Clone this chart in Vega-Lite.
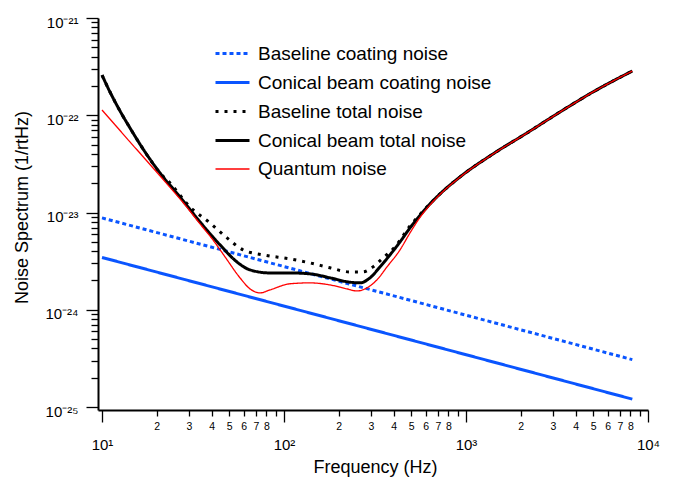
{
 "$schema": "https://vega.github.io/schema/vega-lite/v6.json",
 "width": 550, "height": 392,
 "autosize": "none",
 "padding": {"left": 98, "top": 18, "right": 30, "bottom": 71},
 "background": "white",
 "config": {"view": {"stroke": null}, "font": "Liberation Sans"},
 "data": {"values": [
  {"s":"Baseline coating noise","f":10,"n":8.8e-24},
  {"s":"Baseline coating noise","f":8200,"n":3.07e-25},
  {"s":"Conical beam coating noise","f":10,"n":3.45e-24},
  {"s":"Conical beam coating noise","f":8200,"n":1.205e-25},
  {"s":"Baseline total noise","f":10,"n":2.59e-22},
  {"s":"Baseline total noise","f":11.065,"n":1.735e-22},
  {"s":"Baseline total noise","f":12.56,"n":1.107e-22},
  {"s":"Baseline total noise","f":14.25,"n":7.4e-23},
  {"s":"Baseline total noise","f":17.23,"n":4.196e-23},
  {"s":"Baseline total noise","f":20.83,"n":2.55e-23},
  {"s":"Baseline total noise","f":23.64,"n":2.01e-23},
  {"s":"Baseline total noise","f":30.44,"n":1.143e-23},
  {"s":"Baseline total noise","f":39.21,"n":7.82e-24},
  {"s":"Baseline total noise","f":48.63,"n":5.48e-24},
  {"s":"Baseline total noise","f":59.52,"n":4.13e-24},
  {"s":"Baseline total noise","f":76.67,"n":3.67e-24},
  {"s":"Baseline total noise","f":107.9,"n":3.33e-24},
  {"s":"Baseline total noise","f":139,"n":3.03e-24},
  {"s":"Baseline total noise","f":178.9,"n":2.7e-24},
  {"s":"Baseline total noise","f":230.5,"n":2.45e-24},
  {"s":"Baseline total noise","f":271.7,"n":2.45e-24},
  {"s":"Baseline total noise","f":308.3,"n":2.76e-24},
  {"s":"Baseline total noise","f":349.9,"n":3.41e-24},
  {"s":"Baseline total noise","f":407.3,"n":4.43e-24},
  {"s":"Baseline total noise","f":492.4,"n":7.28e-24},
  {"s":"Baseline total noise","f":558.8,"n":9.56e-24},
  {"s":"Baseline total noise","f":634.2,"n":1.23e-23},
  {"s":"Baseline total noise","f":719.7,"n":1.553e-23},
  {"s":"Baseline total noise","f":926.8,"n":2.322e-23},
  {"s":"Baseline total noise","f":1407,"n":4.0e-23},
  {"s":"Baseline total noise","f":2164,"n":6.58e-23},
  {"s":"Baseline total noise","f":3285,"n":1.081e-22},
  {"s":"Baseline total noise","f":4986,"n":1.735e-22},
  {"s":"Baseline total noise","f":8200,"n":2.852e-22},
  {"s":"Conical beam total noise","f":10,"n":2.59e-22},
  {"s":"Conical beam total noise","f":11.065,"n":1.735e-22},
  {"s":"Conical beam total noise","f":12.56,"n":1.107e-22},
  {"s":"Conical beam total noise","f":14.25,"n":7.4e-23},
  {"s":"Conical beam total noise","f":17.23,"n":4.196e-23},
  {"s":"Conical beam total noise","f":20.83,"n":2.55e-23},
  {"s":"Conical beam total noise","f":26.83,"n":1.445e-23},
  {"s":"Conical beam total noise","f":34.56,"n":8.0e-24},
  {"s":"Conical beam total noise","f":44.5,"n":4.65e-24},
  {"s":"Conical beam total noise","f":55.19,"n":3.1e-24},
  {"s":"Conical beam total noise","f":65.05,"n":2.57e-24},
  {"s":"Conical beam total noise","f":83.78,"n":2.39e-24},
  {"s":"Conical beam total noise","f":107.9,"n":2.39e-24},
  {"s":"Conical beam total noise","f":139,"n":2.34e-24},
  {"s":"Conical beam total noise","f":178.9,"n":2.13e-24},
  {"s":"Conical beam total noise","f":221.9,"n":1.94e-24},
  {"s":"Conical beam total noise","f":261.6,"n":1.89e-24},
  {"s":"Conical beam total noise","f":296.9,"n":2.13e-24},
  {"s":"Conical beam total noise","f":336.9,"n":2.76e-24},
  {"s":"Conical beam total noise","f":382.3,"n":3.667e-24},
  {"s":"Conical beam total noise","f":434,"n":4.985e-24},
  {"s":"Conical beam total noise","f":492.4,"n":6.945e-24},
  {"s":"Conical beam total noise","f":558.8,"n":9.34e-24},
  {"s":"Conical beam total noise","f":634.2,"n":1.226e-23},
  {"s":"Conical beam total noise","f":719.7,"n":1.553e-23},
  {"s":"Conical beam total noise","f":926.8,"n":2.322e-23},
  {"s":"Conical beam total noise","f":1407,"n":4.0e-23},
  {"s":"Conical beam total noise","f":2164,"n":6.58e-23},
  {"s":"Conical beam total noise","f":3285,"n":1.081e-22},
  {"s":"Conical beam total noise","f":4986,"n":1.735e-22},
  {"s":"Conical beam total noise","f":8200,"n":2.852e-22},
  {"s":"Quantum noise","f":10,"n":1.133e-22},
  {"s":"Quantum noise","f":14.25,"n":5.32e-23},
  {"s":"Quantum noise","f":20.83,"n":2.38e-23},
  {"s":"Quantum noise","f":28.58,"n":1.197e-23},
  {"s":"Quantum noise","f":34.56,"n":7.64e-24},
  {"s":"Quantum noise","f":40.73,"n":5.22e-24},
  {"s":"Quantum noise","f":47.41,"n":3.5e-24},
  {"s":"Quantum noise","f":57.3,"n":2.13e-24},
  {"s":"Quantum noise","f":65.05,"n":1.64e-24},
  {"s":"Quantum noise","f":73.8,"n":1.49e-24},
  {"s":"Quantum noise","f":83.78,"n":1.6e-24},
  {"s":"Quantum noise","f":107.9,"n":1.85e-24},
  {"s":"Quantum noise","f":139,"n":1.89e-24},
  {"s":"Quantum noise","f":178.9,"n":1.8e-24},
  {"s":"Quantum noise","f":221.9,"n":1.64e-24},
  {"s":"Quantum noise","f":251.8,"n":1.56e-24},
  {"s":"Quantum noise","f":285.8,"n":1.68e-24},
  {"s":"Quantum noise","f":324.3,"n":2.03e-24},
  {"s":"Quantum noise","f":368.1,"n":2.76e-24},
  {"s":"Quantum noise","f":434,"n":4.13e-24},
  {"s":"Quantum noise","f":492.4,"n":6.17e-24},
  {"s":"Quantum noise","f":558.8,"n":8.91e-24},
  {"s":"Quantum noise","f":634.2,"n":1.197e-23},
  {"s":"Quantum noise","f":719.7,"n":1.535e-23},
  {"s":"Quantum noise","f":926.8,"n":2.31e-23},
  {"s":"Quantum noise","f":1407,"n":3.99e-23},
  {"s":"Quantum noise","f":2164,"n":6.57e-23},
  {"s":"Quantum noise","f":3285,"n":1.079e-22},
  {"s":"Quantum noise","f":4986,"n":1.733e-22},
  {"s":"Quantum noise","f":8200,"n":2.85e-22}
 ]},
 "mark": {"type": "line", "interpolate": "monotone", "clip": true, "strokeCap": "butt"},
 "encoding": {
  "x": {"field": "f", "type": "quantitative",
   "scale": {"type": "log", "domain": [9.506, 10000], "nice": false},
   "axis": {
    "title": "Frequency (Hz)", "titleFontSize": 18, "titleFontWeight": "normal", "titleColor": "black",
    "titleX": 277, "titleY": 57, "titleBaseline": "middle", "titleAlign": "center",
    "values": [10,20,30,40,50,60,70,80,90,100,200,300,400,500,600,700,800,900,1000,2000,3000,4000,5000,6000,7000,8000,9000,10000],
    "labelExpr": "round(datum.value/pow(10,floor(log(datum.value)/LN10+1e-6)))==1 ? '10' + ['⁰','¹','²','³','⁴'][round(log(datum.value)/LN10)] : (round(datum.value/pow(10,floor(log(datum.value)/LN10+1e-6)))==9 ? '' : ''+round(datum.value/pow(10,floor(log(datum.value)/LN10+1e-6))))",
    "labelFontSize": {"condition": {"test": "abs(log(datum.value)/LN10 - round(log(datum.value)/LN10)) < 1e-6", "value": 15}, "value": 10.5},
    "labelPadding": {"condition": {"test": "abs(log(datum.value)/LN10 - round(log(datum.value)/LN10)) < 1e-6", "value": 15}, "value": 5},
    "tickSize": {"condition": {"test": "abs(log(datum.value)/LN10 - round(log(datum.value)/LN10)) < 1e-6", "value": 12}, "value": 6},
    "grid": false, "domainColor": "black", "domainWidth": 2, "tickColor": "black", "tickWidth": 1.3,
    "labelColor": "black", "labelFlush": false, "labelOverlap": false, "labelBound": false
   }},
  "y": {"field": "n", "type": "quantitative",
   "scale": {"type": "log", "domain": [9.315e-26, 1e-21], "nice": false},
   "axis": {
    "title": "Noise Spectrum (1/rtHz)", "titleFontSize": 18, "titleFontWeight": "normal", "titleColor": "black",
    "titleX": -76, "titleY": 189, "titleBaseline": "middle", "titleAlign": "center", "titleAngle": -90,
    "values": [1e-25,2e-25,3e-25,4e-25,5e-25,6e-25,7e-25,8e-25,9e-25,1e-24,2e-24,3e-24,4e-24,5e-24,6e-24,7e-24,8e-24,9e-24,1e-23,2e-23,3e-23,4e-23,5e-23,6e-23,7e-23,8e-23,9e-23,1e-22,2e-22,3e-22,4e-22,5e-22,6e-22,7e-22,8e-22,9e-22,1e-21],
    "labelExpr": "round(datum.value/pow(10,floor(log(datum.value)/LN10+1e-6)))==1 ? '10' + ['⁻²⁵','⁻²⁴','⁻²³','⁻²²','⁻²¹'][round(log(datum.value)/LN10)+25] : ''",
    "labelFontSize": 15, "labelPadding": 8, "labelBaseline": "middle", "labelOffset": 4,
    "tickSize": {"condition": {"test": "abs(log(datum.value)/LN10 - round(log(datum.value)/LN10)) < 1e-6", "value": 12}, "value": 7},
    "grid": false, "domainColor": "black", "domainWidth": 2, "tickColor": "black", "tickWidth": 1.3,
    "labelColor": "black", "labelFlush": false, "labelOverlap": false, "labelBound": false
   }},
  "color": {"field": "s", "type": "nominal",
   "scale": {"domain": ["Baseline coating noise","Conical beam coating noise","Baseline total noise","Conical beam total noise","Quantum noise"],
             "range": ["#0a55ff","#0a55ff","#000000","#000000","#ff0000"]},
   "legend": {"title": null, "orient": "none", "legendX": 116, "legendY": 17, "symbolType": "stroke", "symbolSize": 1156,
              "labelFontSize": 19, "labelColor": "black", "labelOffset": 7, "rowPadding": -5.5, "padding": 0, "labelLimit": 400}},
  "strokeDash": {"field": "s", "type": "nominal",
   "scale": {"domain": ["Baseline coating noise","Conical beam coating noise","Baseline total noise","Conical beam total noise","Quantum noise"],
             "range": [[4,3],[1,0],[3,6],[1,0],[1,0]]}},
  "strokeWidth": {"field": "s", "type": "nominal",
   "scale": {"type": "ordinal", "domain": ["Baseline coating noise","Conical beam coating noise","Baseline total noise","Conical beam total noise","Quantum noise"],
             "range": [3,3,3,3,1.3]}}
 }
}
